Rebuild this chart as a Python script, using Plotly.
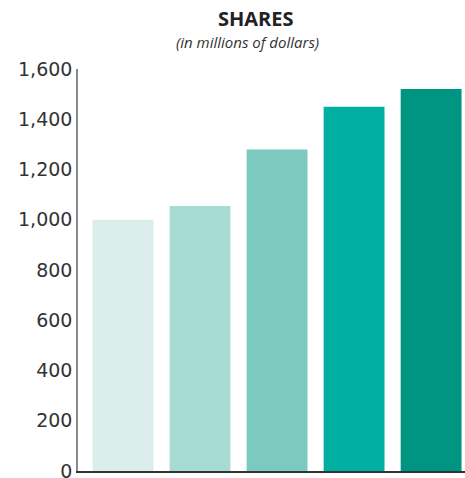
import plotly.graph_objects as go

# Share values (in millions of dollars), one bar per period
periods = ["P1", "P2", "P3", "P4", "P5"]
shares = [1000, 1055, 1280, 1450, 1520]
bar_colors = ["#DAEDEA", "#A6DCD3", "#7BC9BF", "#02AFA3", "#009582"]
tick_values = [0, 200, 400, 600, 800, 1000, 1200, 1400, 1600]
tick_labels = ["0", "200", "400", "600", "800", "1,000", "1,200", "1,400", "1,600"]

fig = go.Figure(
    go.Bar(
        x=list(range(len(periods))),
        y=shares,
        marker=dict(color=bar_colors, line=dict(width=0)),
        width=0.79,
        hovertext=periods,
    )
)

fig.update_layout(
    width=465,
    height=478,
    margin=dict(l=78, r=0, t=69, b=7, autoexpand=False),
    paper_bgcolor="white",
    plot_bgcolor="white",
    showlegend=False,
    xaxis=dict(
        range=[-0.584, 4.44],
        showticklabels=False,
        showgrid=False,
        zeroline=False,
        showline=True,
        linecolor="#333333",
        linewidth=1.5,
        ticks="",
        automargin=False,
    ),
    yaxis=dict(
        range=[0, 1600],
        tickvals=tick_values,
        ticktext=tick_labels,
        showgrid=False,
        zeroline=False,
        showline=True,
        linecolor="#8a8a8a",
        linewidth=1.5,
        ticks="",
        ticklabelstandoff=0,
        ticklabeloverflow="allow",
        automargin=False,
        tickfont=dict(family="DejaVu Sans", size=19, color="#333333"),
    ),
    annotations=[
        dict(
            text="<b>SHARES</b>",
            xref="paper", yref="paper",
            x=0.46, y=1.0, yshift=51,
            xanchor="center", yanchor="middle",
            showarrow=False,
            font=dict(family="Open Sans", size=20, color="#222222"),
        ),
        dict(
            text="<i>(in millions of dollars)</i>",
            xref="paper", yref="paper",
            x=0.437, y=1.0, yshift=27,
            xanchor="center", yanchor="middle",
            showarrow=False,
            font=dict(family="Open Sans", size=15, color="#333333"),
        ),
    ],
)

fig.write_html("out.html")
